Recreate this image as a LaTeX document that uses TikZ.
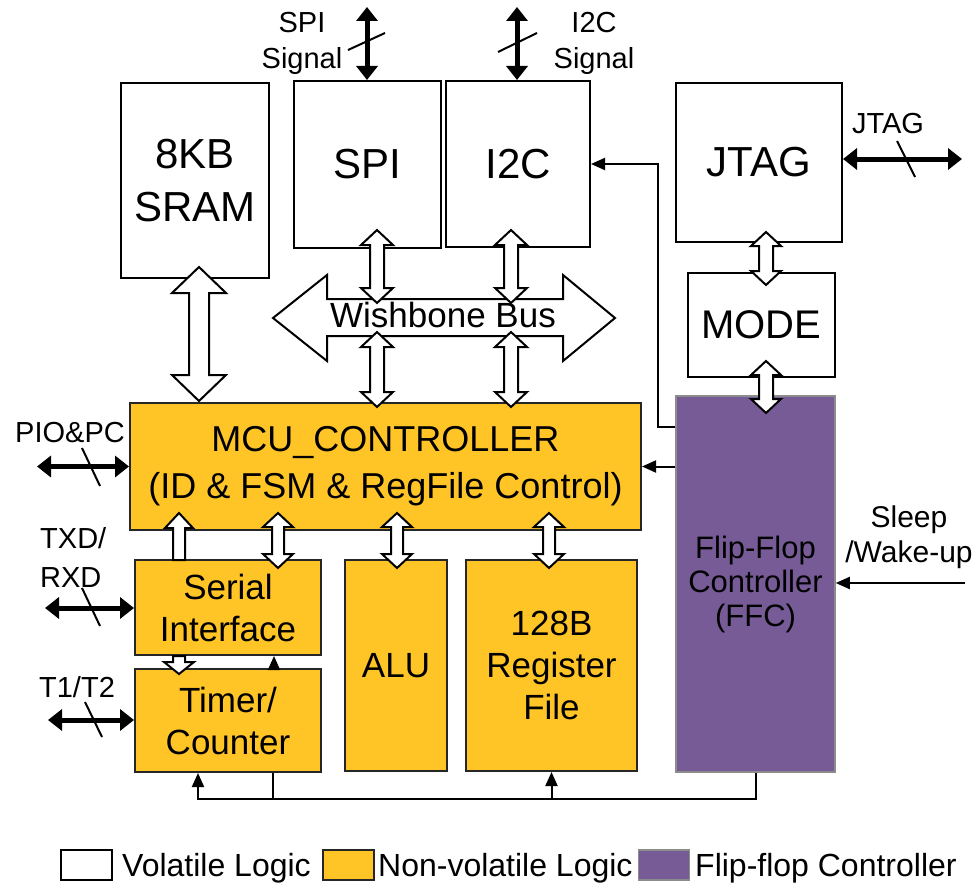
\documentclass[tikz,border=0pt]{standalone}
\usepackage{fontspec}
\setmainfont{Liberation Sans}
\usetikzlibrary{arrows.meta}
\definecolor{nvyellow}{RGB}{255,197,39}
\definecolor{ffpurple}{RGB}{118,91,150}
\newcommand{\fsz}[2]{\fontsize{#1}{#2}\selectfont}
% vertical double block arrow: x, ytop, ybot, shaft half, head half, head length
\newcommand{\vdblarrow}[6]{\draw[blockarr] (#1-#4,#2+#6) -- (#1-#5,#2+#6) -- (#1,#2) -- (#1+#5,#2+#6) -- (#1+#4,#2+#6) -- (#1+#4,#3-#6) -- (#1+#5,#3-#6) -- (#1,#3) -- (#1-#5,#3-#6) -- (#1-#4,#3-#6) -- cycle;}
\newcommand{\vuparrow}[6]{\draw[blockarr] (#1-#4,#3) -- (#1-#4,#2+#6) -- (#1-#5,#2+#6) -- (#1,#2) -- (#1+#5,#2+#6) -- (#1+#4,#2+#6) -- (#1+#4,#3) -- cycle;}
\newcommand{\vdnarrow}[6]{\draw[blockarr] (#1-#4,#2) -- (#1+#4,#2) -- (#1+#4,#3-#6) -- (#1+#5,#3-#6) -- (#1,#3) -- (#1-#5,#3-#6) -- (#1-#4,#3-#6) -- cycle;}
\begin{document}
\begin{tikzpicture}[x=1pt,y=-1pt,
  vbox/.style={draw=black, line width=2pt, fill=white, align=center, inner sep=0pt},
  nvbox/.style={draw=black!85, line width=2pt, fill=nvyellow, align=center, inner sep=0pt, font=\fsz{35}{42}},
  ffbox/.style={draw=black!45, line width=1.5pt, fill=ffpurple, align=center, inner sep=0pt, font=\fsz{31}{34}},
  big/.style={font=\fsz{42}{53}},
  blockarr/.style={draw=black, line width=2pt, fill=white, line join=miter},
  thickarr/.style={draw=black, line width=5pt, {Triangle[length=14pt,width=21pt]}-{Triangle[length=14pt,width=21pt]}},
  tarrow/.style={draw=black, line width=2pt, -{Triangle[length=14pt,width=12pt]}},
  tline/.style={draw=black, line width=2pt},
  slash/.style={draw=black, line width=2pt},
  lbl/.style={font=\fsz{29}{35}, inner sep=0pt},
  leg/.style={font=\fsz{32}{36}, inner sep=0pt, anchor=base west},
  legbox/.style={minimum width=51pt, minimum height=30pt, inner sep=0pt}
]
\useasboundingbox (0,0) rectangle (977,883);

% ---------- boxes ----------
\node[vbox, big, minimum width=148pt, minimum height=195pt] (sram) at (195,180.5) {8KB\\SRAM};
\node[vbox, big, minimum width=147pt, minimum height=167pt] (spi) at (367.5,164.5) {SPI};
\node[vbox, big, minimum width=144pt, minimum height=166pt] (i2c) at (518,164) {I2C};
\node[vbox, big, minimum width=166pt, minimum height=159pt] (jtag) at (759,162.5) {JTAG};
\node[vbox, font=\fsz{40}{48}, minimum width=147pt, minimum height=104pt] (mode) at (761.5,325) {MODE};
\node[ffbox, minimum width=159pt, minimum height=376pt] (ffc) at (755.5,584) {Flip-Flop\\Controller\\(FFC)};
\node[nvbox, font=\fsz{36}{47}, minimum width=511pt, minimum height=127pt] (mcu) at (385.5,466.5) {MCU\_CONTROLLER\\(ID \& FSM \& RegFile Control)};
\node[nvbox, minimum width=186pt, minimum height=95pt] (serial) at (228,607.5) {Serial\\Interface};
\node[nvbox, minimum width=186pt, minimum height=103pt] (timer) at (228,720.5) {Timer/\\Counter};
\node[nvbox, minimum width=102pt, minimum height=211pt] (alu) at (396,665.5) {ALU};
\node[nvbox, minimum width=171pt, minimum height=211pt] (regf) at (551.5,665.5) {128B\\Register\\File};

% ---------- wishbone bus ----------
\draw[blockarr] (273,318) -- (327,275) -- (327,299) -- (563,299) -- (563,275) -- (615,318) -- (563,361) -- (563,336) -- (327,336) -- (327,361) -- cycle;

% ---------- block arrows ----------
\vdblarrow{199}{267}{401}{10}{27}{26}
\vdblarrow{377}{230}{303}{7}{16}{15}
\vdblarrow{511}{230}{303}{7}{16}{15}
\vdblarrow{377}{332}{407}{7}{16}{15}
\vdblarrow{511}{332}{407}{7}{16}{15}
\vdblarrow{766}{232}{285}{7}{15}{14}
\vdblarrow{766}{361}{413}{7}{15}{14}
\vuparrow{179}{513}{560}{6}{14}{15}
\vdblarrow{278}{513}{568}{6}{15}{14}
\vdblarrow{397}{513}{568}{6}{15}{14}
\vdblarrow{549}{513}{568}{6}{15}{14}
\vdnarrow{179}{656}{674}{6}{15}{12}

\node[font=\fsz{35}{40}, inner sep=0pt] (wbl) at (443,315) {Wishbone Bus};

% ---------- thick external signals ----------
\coordinate (spisig) at (367,7);
\coordinate (i2csig) at (517,7);
\coordinate (jtagext) at (962,159);
\coordinate (pioext) at (37,466.5);
\coordinate (txdext) at (45,608);
\coordinate (t1ext) at (48,720);
\draw[thickarr] (spisig) -- (spi.north -| spisig);
\draw[thickarr] (i2csig) -- (i2c.north -| i2csig);
\draw[thickarr] (jtag.east |- jtagext) -- (jtagext);
\draw[thickarr] (pioext) -- (mcu.west |- pioext);
\draw[thickarr] (txdext) -- (serial.west |- txdext);
\draw[thickarr] (t1ext) -- (timer.west |- t1ext);
\draw[slash] (348,50) -- (385,33);
\draw[slash] (498,52) -- (537,33);
\draw[slash] (897,141) -- (915,177);
\draw[slash] (82,448) -- (100,486);
\draw[slash] (82,588) -- (100,626);
\draw[slash] (85,702) -- (102,737);

% ---------- labels ----------
\node[lbl, anchor=base] (spil1) at (302,33) {SPI};
\node[lbl, anchor=base] (spil2) at (302,68) {Signal};
\node[lbl, anchor=base] (i2cl1) at (594,33) {I2C};
\node[lbl, anchor=base] (i2cl2) at (594,68) {Signal};
\node[lbl, anchor=base] (jtagl) at (888,133) {JTAG};
\node[lbl, anchor=base] (piol) at (70,442) {PIO\&PC};
\node[lbl, anchor=base west] (txdl1) at (40,548) {TXD/};
\node[lbl, anchor=base west] (txdl2) at (40,587) {RXD};
\node[lbl, anchor=base] (t1l) at (77,697) {T1/T2};
\node[lbl, font=\fsz{30}{35}, anchor=base] (sleepl1) at (909,527) {Sleep};
\node[lbl, font=\fsz{30}{35}, anchor=base] (sleepl2) at (909,562) {/Wake-up};

% ---------- thin control arrows ----------
\coordinate (ffcturn) at (658,427);
\coordinate (sleepin) at (965,583);
\coordinate (busl) at (198,799);
\coordinate (tmrdown) at (273,799);
\draw[tarrow] (ffc.west |- mcu.east) -- (mcu.east);
\draw[tarrow] (ffc.west |- ffcturn) -- (ffcturn) -- (ffcturn |- i2c.east) -- (i2c.east);
\draw[tarrow] (sleepin) -- (ffc.east |- sleepin);
\draw[tarrow] (ffc.south) -- (ffc.south |- busl) -- (busl) -- (timer.south -| busl);
\draw[tarrow] (regf.south |- busl) -- (regf.south);
\draw[tline] (timer.south -| tmrdown) -- (tmrdown);
\draw[tarrow] (timer.north -| 274,0) -- (serial.south -| 274,0);

% ---------- legend ----------
\node[legbox, draw=black, line width=2pt, fill=white] (lg1) at (86.5,865) {};
\node[leg] (lt1) at (122,876) {Volatile Logic};
\node[legbox, draw=black!85, line width=2pt, fill=nvyellow] (lg2) at (348,865) {};
\node[leg] (lt2) at (378,876) {Non-volatile Logic};
\node[legbox, draw=black!45, line width=1.5pt, fill=ffpurple] (lg3) at (664,865) {};
\node[leg] (lt3) at (695,876) {Flip-flop Controller};
\end{tikzpicture}
\end{document}
